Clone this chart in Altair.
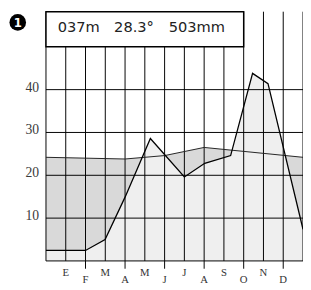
import altair as alt
import pandas as pd

# ---- data ----
months = ["E", "F", "M", "A", "M", "J", "J", "A", "S", "O", "N", "D"]
month_pos = [1, 2, 3, 4, 5, 6, 7, 8, 9, 10, 11, 12]

precip_pos = [0, 2, 2.99, 4.0, 5.28, 7.0, 8.03, 9.34, 10.45, 11.23, 13.0]
precip_val = [2.45, 2.45, 5.0, 14.9, 28.6, 19.6, 22.8, 24.6, 43.8, 41.4, 7.4]

temp_pos = [0, 4, 6, 8, 13]
temp_val = [24.2, 23.8, 24.6, 26.5, 24.2]

y_ticks = [10, 20, 30, 40]
y_labels = ["10", "20", "30", "40"]
grid_x = list(range(0, 14))
tick_x = [2, 4, 6, 8, 10, 12]
header_words = ["037m", "28.3°", "503mm"]
badge = "1"

# ---- layout ----
W, H = 264, 256
YMAX = 58.2
xs = alt.Scale(domain=[0, 13], nice=False, zero=False)
ys = alt.Scale(domain=[0, YMAX], nice=False, zero=True)

temp_df = pd.DataFrame({"u": temp_pos, "v": temp_val})
prec_df = pd.DataFrame({"u": precip_pos, "v": precip_val})
hgrid_df = pd.DataFrame({"v": [0] + y_ticks})
vgrid_df = pd.DataFrame({"u": grid_x})
tick_df = pd.DataFrame({"u": tick_x})
ylab_df = pd.DataFrame({"v": y_ticks, "t": y_labels})
mon_df = pd.DataFrame({"u": month_pos, "t": months,
                       "row": ["up" if i % 2 == 0 else "low" for i in range(12)]})
box_df = pd.DataFrame({"x": [0], "x2": [10], "y": [50]})
head_df = pd.DataFrame({"px": [12, 70, 126], "t": header_words})
badge_df = pd.DataFrame({"t": [badge]})

X = alt.X("u:Q", scale=xs, axis=None)

dark = alt.Chart(temp_df).mark_area(color="#d9d9d9", opacity=1).encode(
    x=X, y=alt.Y("v:Q", scale=ys, axis=None))
light = alt.Chart(prec_df).mark_area(color="#efefef", opacity=1).encode(
    x=X, y=alt.Y("v:Q", scale=ys, axis=None))

hgrid = alt.Chart(hgrid_df).mark_rule(color="black", strokeWidth=1).encode(
    y=alt.Y("v:Q", scale=ys, axis=None), x=alt.value(0), x2=alt.value(W))
vgrid = alt.Chart(vgrid_df).mark_rule(color="black", strokeWidth=1).encode(
    x=X, y=alt.value(0), y2=alt.value(H))
ticks = alt.Chart(tick_df).mark_rule(color="black", strokeWidth=1).encode(
    x=X, y=alt.value(H), y2=alt.value(H + 8))

box = alt.Chart(box_df).mark_rect(fill="white", stroke="black", strokeWidth=1.5).encode(
    x=alt.X("x:Q", scale=xs, axis=None), x2="x2:Q",
    y=alt.Y("y:Q", scale=ys, axis=None), y2=alt.value(0))

temp_line = alt.Chart(temp_df).mark_line(color="#222222", strokeWidth=1).encode(
    x=X, y=alt.Y("v:Q", scale=ys, axis=None))
prec_line = alt.Chart(prec_df).mark_line(color="black", strokeWidth=1.3).encode(
    x=X, y=alt.Y("v:Q", scale=ys, axis=None))

ylab = alt.Chart(ylab_df).mark_text(
    font="Liberation Serif", fontSize=14, color="#3a3a3a", align="right",
    baseline="middle", dy=-2).encode(
    y=alt.Y("v:Q", scale=ys, axis=None), x=alt.value(-7), text="t:N")

mon_up = alt.Chart(mon_df).transform_filter(alt.datum.row == "up").mark_text(
    font="Liberation Serif", fontSize=11, color="#333333", align="center",
    baseline="middle").encode(x=X, y=alt.value(H + 12), text="t:N")
mon_low = alt.Chart(mon_df).transform_filter(alt.datum.row == "low").mark_text(
    font="Liberation Serif", fontSize=11, color="#333333", align="center",
    baseline="middle").encode(x=X, y=alt.value(H + 20), text="t:N")

head = alt.Chart(head_df).mark_text(
    font="DejaVu Sans", fontSize=15, color="#222222", align="left",
    baseline="middle").encode(x=alt.X("px:Q", scale=None, axis=None),
                              y=alt.value(16), text="t:N")

circ = alt.Chart(badge_df).mark_circle(color="black", opacity=1, size=290).encode(
    x=alt.value(-29), y=alt.value(11))
circ_t = alt.Chart(badge_df).mark_text(
    font="DejaVu Sans", fontSize=12, fontWeight="bold", color="white",
    align="center", baseline="middle").encode(
    x=alt.value(-29), y=alt.value(11.5), text="t:N")

chart = alt.layer(
    dark, light, hgrid, vgrid, ticks, box, temp_line, prec_line,
    ylab, mon_up, mon_low, head, circ, circ_t
).properties(
    width=W, height=H,
    autosize=alt.AutoSizeParams(type="none"),
    padding={"left": 39, "top": 0, "right": 0, "bottom": 24},
).configure_view(stroke=None)

chart.save("out.html", embed_options={"renderer": "svg", "actions": False})
